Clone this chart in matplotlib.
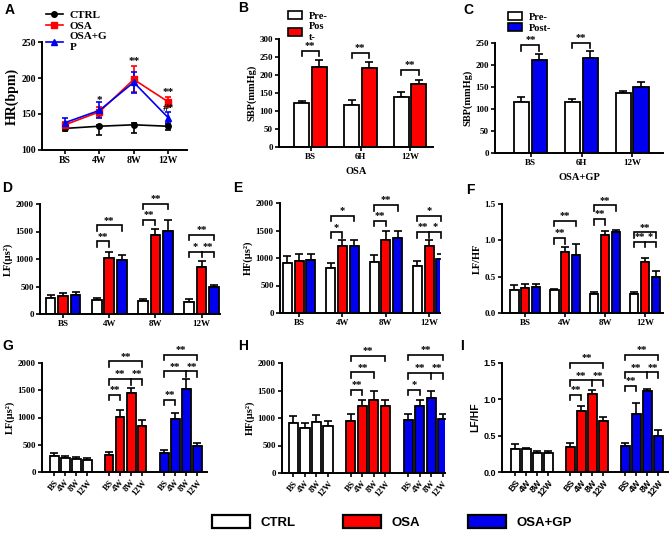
# -*- coding: utf-8 -*-
# HR / SBP / HRV panels (A-I), CTRL vs OSA vs OSA+GP
import numpy as np
import matplotlib
matplotlib.use("Agg")
import matplotlib.pyplot as plt
from matplotlib.lines import Line2D
from matplotlib.patches import Patch

# ----------------- dados -----------------
TEMPOS = ["BS", "4W", "8W", "12W"]
TEMPOS_SBP = ["BS", "6H", "12W"]

hr_ctrl = [130, 133, 135, 133]
hr_ctrl_lo = [4, 12, 12, 5]
hr_ctrl_hi = [4, 2, 2, 3]
hr_osa = [135, 153, 198, 167]
hr_osa_err = [4, 7, 18, 7]
hr_gp = [138, 155, 194, 145]
hr_gp_err = [6, 11, 15, 8]

sbp_osa_pre = [122, 118, 138]
sbp_osa_pre_err = [7, 12, 14]
sbp_osa_post = [223, 219, 174]
sbp_osa_post_err = [19, 16, 12]
sbp_gp_pre = [116, 117, 136]
sbp_gp_pre_err = [11, 6, 6]
sbp_gp_post = [212, 217, 149]
sbp_gp_post_err = [12, 14, 13]

lf_ctrl = [285, 255, 235, 225]
lf_ctrl_err = [55, 45, 40, 40]
lf_osa = [320, 1015, 1445, 850]
lf_osa_err = [55, 120, 100, 110]
lf_gp = [345, 980, 1515, 485]
lf_gp_err = [60, 95, 190, 50]

hf_ctrl = [910, 810, 935, 860]
hf_ctrl_err = [120, 100, 125, 80]
hf_osa = [950, 1215, 1330, 1210]
hf_osa_err = [125, 105, 170, 110]
hf_gp = [960, 1215, 1355, 975]
hf_gp_err = [115, 105, 145, 100]

rt_ctrl = [0.31, 0.315, 0.255, 0.265]
rt_ctrl_err = [0.08, 0.015, 0.04, 0.03]
rt_osa = [0.34, 0.835, 1.08, 0.70]
rt_osa_err = [0.06, 0.07, 0.055, 0.06]
rt_gp = [0.36, 0.805, 1.12, 0.50]
rt_gp_err = [0.04, 0.15, 0.02, 0.08]

RED = "#FF0000"
BLUE = "#0000EE"
SERIF = "Liberation Serif"
SANS = "Liberation Sans"

W, H = 669, 533


def box(l, t, r, b):
    return [l / W, 1 - b / H, (r - l) / W, (b - t) / H]


def style_ax(ax, fam=SERIF, fs=6.5):
    for s in ("top", "right"):
        ax.spines[s].set_visible(False)
    for s in ("left", "bottom"):
        ax.spines[s].set_linewidth(1.4)
    ax.tick_params(width=1.2, length=3, pad=1.5)
    for t in ax.get_xticklabels() + ax.get_yticklabels():
        t.set_family(fam)
        t.set_weight("bold")
        t.set_fontsize(fs)


def bars(ax, x, y, err, color, width):
    ax.bar(x, y, width=width, color=color, edgecolor="black", linewidth=1.3, zorder=2)
    ax.errorbar(x, y, yerr=[np.zeros(len(y)), err], fmt="none", ecolor="black",
                elinewidth=1.2, capsize=2.6, capthick=1.2, zorder=1)


def bracket(ax, xs, y, d, texts, fs=7.5):
    ax.plot([xs[0], xs[0], xs[-1], xs[-1]], [y - d, y, y, y - d], color="black",
            lw=1.2, clip_on=False, solid_joinstyle="miter")
    for xm in xs[1:-1]:
        ax.plot([xm, xm], [y, y - d], color="black", lw=1.2, clip_on=False)
    for i, t in enumerate(texts):
        ax.text((xs[i] + xs[i + 1]) / 2, y + d * 0.15, t, ha="center", va="bottom",
                fontsize=fs, family=SERIF, fontweight="bold")


def letra(x, y, s):
    fig.text(x / W, 1 - y / H, s, family=SANS, fontweight="bold", fontsize=10,
             ha="left", va="center")


fig = plt.figure(figsize=(W / 100, H / 100), dpi=100)

# ----------------- A -----------------
ax = fig.add_axes(box(42, 42, 187, 150))
xa = np.arange(len(TEMPOS))
ax.errorbar(xa, hr_ctrl, yerr=[hr_ctrl_lo, hr_ctrl_hi], color="black", marker="o", ms=4,
            lw=1.2, capsize=2.5, elinewidth=1.2, capthick=1.2)
ax.errorbar(xa, hr_osa, yerr=hr_osa_err, color=RED, marker="s", ms=4.5,
            lw=1.2, capsize=2.5, elinewidth=1.2, capthick=1.2)
ax.errorbar(xa, hr_gp, yerr=hr_gp_err, color=BLUE, marker="^", ms=4.5,
            lw=1.2, capsize=2.5, elinewidth=1.2, capthick=1.2)
ax.set_xlim(-0.67, 3.55)
ax.set_ylim(100, 250)
ax.set_yticks([100, 150, 200, 250])
ax.set_xticks(xa)
ax.set_xticklabels(TEMPOS)
ax.set_ylabel("HR(bpm)", family=SERIF, fontweight="bold", fontsize=10, labelpad=2)
style_ax(ax, fs=7)
for xx, yy, s in [(1, 162, "*"), (2, 217, "**"), (3, 173, "**"), (3, 152, "#*")]:
    ax.text(xx, yy, s, ha="center", va="bottom", family=SERIF, fontweight="bold", fontsize=8)
hA = [Line2D([0], [0], color="black", marker="o", ms=4, lw=1.2),
      Line2D([0], [0], color=RED, marker="s", ms=4.5, lw=1.2),
      Line2D([0], [0], color=BLUE, marker="^", ms=4.5, lw=1.2)]
fig.legend(hA, ["CTRL", "OSA", "OSA+G\nP"], loc="upper left",
           bbox_to_anchor=(40 / W, 1 - 5 / H), frameon=False, handlelength=1.6,
           labelspacing=0.1, handletextpad=0.6, borderpad=0,
           prop=dict(family=SERIF, weight="bold", size=8))

# ----------------- B e C -----------------
def painel_sbp(rect, pre, pre_err, post, post_err, cor, ymax, xlim, xlabel, lab_post, brs):
    ax = fig.add_axes(rect)
    x = np.arange(len(TEMPOS_SBP))
    bars(ax, x - 0.18, pre, pre_err, "white", 0.3)
    bars(ax, x + 0.17, post, post_err, cor, 0.3)
    ax.set_xlim(*xlim)
    ax.set_ylim(0, ymax)
    ax.set_yticks(np.arange(0, ymax + 1, 50))
    ax.set_xticks(x)
    ax.set_xticklabels(TEMPOS_SBP)
    ax.set_ylabel("SBP(mmHg)", family=SERIF, fontweight="bold", fontsize=7.5, labelpad=2)
    ax.set_xlabel(xlabel, family=SERIF, fontweight="bold", fontsize=7.5, labelpad=4)
    style_ax(ax, fs=6.5)
    for i, yb in brs:
        bracket(ax, [i - 0.18, i + 0.17], yb, ymax * 0.05, ["**"])
    return ax, ["Pre-", lab_post]


axB, labB = painel_sbp(box(279, 39, 433, 147), sbp_osa_pre, sbp_osa_pre_err, sbp_osa_post,
                       sbp_osa_post_err, RED, 300, (-0.63, 2.45), "OSA", "Pos\nt-",
                       [(0, 268), (1, 262), (2, 215)])
fig.legend([Patch(fc="white", ec="black", lw=1.2), Patch(fc=RED, ec="black", lw=1.2)], labB,
           loc="upper left", bbox_to_anchor=(283 / W, 1 - 6 / H), frameon=False,
           handlelength=1.3, handleheight=0.8, labelspacing=0.15, handletextpad=0.7,
           borderpad=0, prop=dict(family=SERIF, weight="bold", size=7.5))

axC, labC = painel_sbp(box(495, 43, 663, 153), sbp_gp_pre, sbp_gp_pre_err, sbp_gp_post,
                       sbp_gp_post_err, BLUE, 250, (-0.7, 2.6), "OSA+GP", "Post-",
                       [(0, 245), (1, 251)])
fig.legend([Patch(fc="white", ec="black", lw=1.2), Patch(fc=BLUE, ec="black", lw=1.2)], labC,
           loc="upper left", bbox_to_anchor=(503 / W, 1 - 7 / H), frameon=False,
           handlelength=1.3, handleheight=0.8, labelspacing=0.15, handletextpad=0.7,
           borderpad=0, prop=dict(family=SERIF, weight="bold", size=7.5))

# ----------------- D, E, F (agrupado por tempo) -----------------
def painel_tempo(rect, series, ymax, yticks, xlim, ylabel, brs, fmt=None):
    ax = fig.add_axes(rect)
    x = np.arange(len(TEMPOS))
    off = [-0.27, 0.0, 0.27]
    cores = ["white", RED, BLUE]
    for (y, e), o, c in zip(series, off, cores):
        bars(ax, x + o, y, e, c, 0.21)
    ax.set_xlim(*xlim)
    ax.set_ylim(0, ymax)
    ax.set_yticks(yticks)
    if fmt:
        ax.set_yticklabels([fmt.format(v) for v in yticks])
    ax.set_xticks(x)
    ax.set_xticklabels(TEMPOS)
    ax.set_ylabel(ylabel, family=SERIF, fontweight="bold", fontsize=7.5, labelpad=2)
    style_ax(ax, fs=6.5)
    d = ymax * 0.05
    for g, a, b, yb, txt in brs:
        xs = [g + off[k] for k in range(a, b + 1)] if len(txt) > 1 else [g + off[a], g + off[b]]
        bracket(ax, xs, yb, d, txt)
    return ax


painel_tempo(box(40, 204, 220, 314), [(lf_ctrl, lf_ctrl_err), (lf_osa, lf_osa_err), (lf_gp, lf_gp_err)],
             2000, [0, 500, 1000, 1500, 2000], (-0.5, 3.4), "LF(μs²)",
             [(1, 0, 1, 1320, ["**"]), (1, 0, 2, 1610, ["**"]),
              (2, 0, 1, 1715, ["**"]), (2, 0, 2, 2000, ["**"]),
              (3, 0, 2, 1130, ["*", "**"]), (3, 0, 2, 1440, ["**"])])

painel_tempo(box(280, 203, 440, 313), [(hf_ctrl, hf_ctrl_err), (hf_osa, hf_osa_err), (hf_gp, hf_gp_err)],
             2000, [0, 500, 1000, 1500, 2000], (-0.44, 3.25), "HF(μs²)",
             [(1, 0, 1, 1465, ["*"]), (1, 0, 2, 1770, ["*"]),
              (2, 0, 1, 1680, ["**"]), (2, 0, 2, 1958, ["**"]),
              (3, 0, 2, 1470, ["**", "*"]), (3, 0, 2, 1770, ["*"])])

painel_tempo(box(502, 204, 663, 313), [(rt_ctrl, rt_ctrl_err), (rt_osa, rt_osa_err), (rt_gp, rt_gp_err)],
             1.5, [0, 0.5, 1.0, 1.5], (-0.58, 3.45), "LF/HF",
             [(1, 0, 1, 1.03, ["**"]), (1, 0, 2, 1.27, ["**"]),
              (2, 0, 1, 1.29, ["**"]), (2, 0, 2, 1.48, ["**"]),
              (3, 0, 2, 0.98, ["**", "*"]), (3, 0, 2, 1.11, ["**"])], fmt="{:.1f}")

# ----------------- G, H, I (agrupado por grupo) -----------------
def painel_grupo(rect, series, ymax, yticks, xlim, ylabel, brs, fam=SERIF, fmt=None):
    ax = fig.add_axes(rect)
    cores = ["white", RED, BLUE]
    pos_all, lab_all = [], []
    for gi, ((y, e), c) in enumerate(zip(series, cores)):
        x = np.arange(len(TEMPOS)) + gi * 5
        bars(ax, x, y, e, c, 0.8)
        pos_all += list(x)
        lab_all += TEMPOS
    ax.set_xlim(*xlim)
    ax.set_ylim(0, ymax)
    ax.set_yticks(yticks)
    if fmt:
        ax.set_yticklabels([fmt.format(v) for v in yticks])
    ax.set_xticks(pos_all)
    ax.set_xticklabels(lab_all, rotation=50, ha="right", rotation_mode="anchor")
    ax.set_ylabel(ylabel, family=fam, fontweight="bold", fontsize=7.5, labelpad=2)
    style_ax(ax, fam=fam, fs=6.5)
    d = ymax * 0.05
    for gi, idx, yb, txt in brs:
        xs = [gi * 5 + k for k in idx]
        bracket(ax, xs, yb, d, txt)
    return ax


painel_grupo(box(42, 363, 207, 472), [(lf_ctrl, lf_ctrl_err), (lf_osa, lf_osa_err), (lf_gp, lf_gp_err)],
             2000, [0, 500, 1000, 1500, 2000], (-1.1, 13.9), "LF(μs²)",
             [(1, [0, 1], 1415, ["**"]), (1, [0, 2, 3], 1705, ["**", "**"]), (1, [0, 3], 2030, ["**"]),
              (2, [0, 1], 1325, ["**"]), (2, [0, 2, 3], 1845, ["**", "**"]), (2, [0, 3], 2150, ["**"])])

painel_grupo(box(282, 363, 445, 473), [(hf_ctrl, hf_ctrl_err), (hf_osa, hf_osa_err), (hf_gp, hf_gp_err)],
             2000, [0, 500, 1000, 1500, 2000], (-1.0, 13.2), "HF(μs²)",
             [(1, [0, 1], 1510, ["**"]), (1, [0, 2], 1830, ["**"]), (1, [0, 3], 2135, ["**"]),
              (2, [0, 1], 1510, ["*"]), (2, [0, 2, 3], 1815, ["**", "**"]), (2, [0, 3], 2150, ["**"])])

painel_grupo(box(502, 363, 668, 472), [(rt_ctrl, rt_ctrl_err), (rt_osa, rt_osa_err), (rt_gp, rt_gp_err)],
             1.5, [0, 0.5, 1.0, 1.5], (-1.2, 13.9), "LF/HF",
             [(1, [0, 1], 1.06, ["**"]), (1, [0, 2, 3], 1.26, ["**", "**"]), (1, [0, 3], 1.50, ["**"]),
              (2, [0, 1], 1.19, ["**"]), (2, [0, 2, 3], 1.37, ["**", "**"]), (2, [0, 3], 1.61, ["**"])],
             fam=SANS, fmt="{:.1f}")

# ----------------- letras e legenda -----------------
for x, y, s in [(5, 10, "A"), (238, 8, "B"), (463, 10, "C"),
                (2, 188, "D"), (233, 188, "E"), (466, 190, "F"),
                (2, 346, "G"), (238, 346, "H"), (460, 346, "I")]:
    letra(x, y, s)

hL = [Patch(fc="white", ec="black", lw=1.6), Patch(fc=RED, ec="black", lw=1.6),
      Patch(fc=BLUE, ec="black", lw=1.6)]
fig.legend(hL, ["CTRL", "OSA", "OSA+GP"], loc="center", bbox_to_anchor=(392 / W, 1 - 522 / H),
           ncol=3, frameon=False, handlelength=2.9, handleheight=1.1, columnspacing=3.6,
           handletextpad=0.8, prop=dict(family=SANS, weight="bold", size=9.5))

fig.savefig("out.png", dpi=100)
